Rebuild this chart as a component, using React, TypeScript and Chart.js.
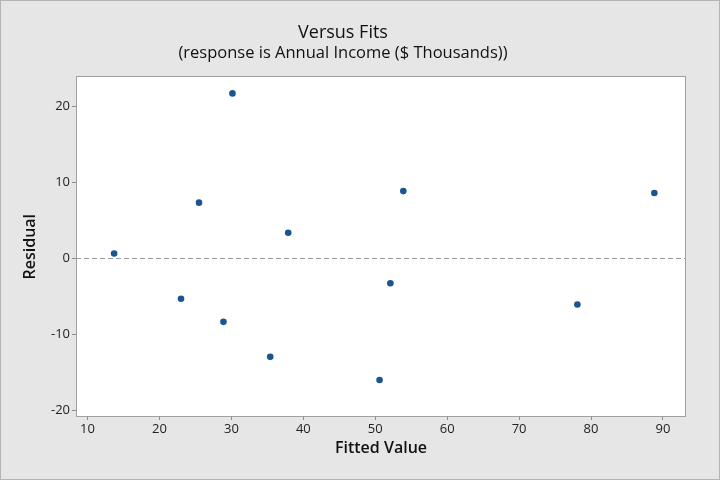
import React, { useEffect, useRef } from 'react';
import { Chart, registerables } from 'chart.js';

Chart.register(...registerables);

const fittedValues = [13.7, 23.0, 25.5, 28.9, 30.15, 35.4, 37.9, 50.6, 52.1, 53.9, 78.1, 88.8];
const residuals = [0.66, -5.32, 7.36, -8.36, 21.76, -12.97, 3.39, -16.03, -3.26, 8.88, -6.07, 8.63];
const xTicks = [10, 20, 30, 40, 50, 60, 70, 80, 90];
const yTicks = [-20, -10, 0, 10, 20];
const titleText = 'Versus Fits';
const subtitleText = '(response is Annual Income ($ Thousands))';
const xTitle = 'Fitted Value';
const yTitle = 'Residual';

const FONT = "'Open Sans', 'Noto Sans', sans-serif";

const framePlugin = {
  id: 'frame',
  beforeDraw(chart: any) {
    const { ctx, width, height, chartArea } = chart;
    ctx.save();
    ctx.fillStyle = '#e6e6e6';
    ctx.fillRect(0, 0, width, height);
    ctx.strokeStyle = '#b4b4b4';
    ctx.lineWidth = 1;
    ctx.strokeRect(0.5, 0.5, width - 1, height - 1);
    ctx.fillStyle = '#ffffff';
    ctx.fillRect(chartArea.left, chartArea.top, chartArea.right - chartArea.left, chartArea.bottom - chartArea.top);
    ctx.restore();
  },
  beforeDatasetsDraw(chart: any) {
    const { ctx, chartArea, scales } = chart;
    const y0 = Math.round(scales.y.getPixelForValue(0)) + 0.5;
    ctx.save();
    ctx.strokeStyle = '#9a9a9a';
    ctx.lineWidth = 1;
    ctx.setLineDash([5, 3]);
    ctx.beginPath();
    ctx.moveTo(chartArea.left, y0);
    ctx.lineTo(chartArea.right, y0);
    ctx.stroke();
    ctx.restore();
  },
  afterDraw(chart: any) {
    const { ctx, chartArea } = chart;
    ctx.save();
    ctx.strokeStyle = '#a0a0a0';
    ctx.lineWidth = 1;
    ctx.strokeRect(
      Math.round(chartArea.left) + 0.5,
      Math.round(chartArea.top) + 0.5,
      Math.round(chartArea.right - chartArea.left) - 1,
      Math.round(chartArea.bottom - chartArea.top) - 1
    );
    ctx.restore();
  },
};

export default function App() {
  const ref = useRef<HTMLCanvasElement | null>(null);

  useEffect(() => {
    if (!ref.current) return;
    const chart = new Chart(ref.current, {
      type: 'scatter',
      data: {
        datasets: [
          {
            data: fittedValues.map((x, i) => ({ x, y: residuals[i] })),
            backgroundColor: '#1a5590',
            borderColor: '#1a5590',
            pointRadius: 3.3,
            pointHoverRadius: 3.3,
            borderWidth: 0,
          },
        ],
      },
      options: {
        responsive: false,
        animation: false,
        devicePixelRatio: 1,
        layout: { padding: { left: 0, right: 34, top: 0, bottom: 0 } },
        plugins: {
          legend: { display: false },
          tooltip: { enabled: false },
          title: {
            display: true,
            text: titleText,
            color: '#111111',
            font: { family: FONT, size: 18, weight: '500', lineHeight: 1.2 },
            padding: { top: 22, bottom: 0 },
          },
          subtitle: {
            display: true,
            text: subtitleText,
            color: '#111111',
            font: { family: FONT, size: 16.5, weight: '500', lineHeight: 1.2 },
            padding: { top: 0, bottom: 13 },
          },
        },
        scales: {
          x: {
            type: 'linear',
            min: 8.4,
            max: 93.2,
            afterBuildTicks: (scale: any) => {
              scale.ticks = xTicks.map((v) => ({ value: v }));
            },
            afterFit: (scale: any) => {
              scale.height = 63;
            },
            grid: {
              display: true,
              drawOnChartArea: false,
              drawTicks: true,
              tickLength: 3,
              color: '#8c8c8c',
            },
            border: { display: false },
            ticks: {
              color: '#222222',
              font: { family: FONT, size: 13 },
              padding: 1,
              maxRotation: 0,
              autoSkip: false,
            },
            title: {
              display: true,
              text: xTitle,
              color: '#111111',
              font: { family: FONT, size: 16, weight: '600', lineHeight: 1.2 },
              padding: { top: 0, bottom: 22 },
            },
          },
          y: {
            type: 'linear',
            min: -20.9,
            max: 24,
            afterBuildTicks: (scale: any) => {
              scale.ticks = yTicks.map((v) => ({ value: v }));
            },
            afterFit: (scale: any) => {
              scale.width = 76;
            },
            grid: {
              display: true,
              drawOnChartArea: false,
              drawTicks: true,
              tickLength: 4,
              color: '#8c8c8c',
            },
            border: { display: false },
            ticks: {
              color: '#222222',
              font: { family: FONT, size: 13 },
              padding: 2,
              autoSkip: false,
            },
            title: {
              display: true,
              text: yTitle,
              color: '#111111',
              font: { family: FONT, size: 16, weight: '600', lineHeight: 1.2 },
              padding: { top: 21, bottom: 0 },
            },
          },
        },
      },
      plugins: [framePlugin],
    });
    return () => chart.destroy();
  }, []);

  return (
    <div style={{ position: 'fixed', left: 0, top: 0, width: 720, height: 480 }}>
      <canvas ref={ref} width={720} height={480} style={{ display: 'block' }} />
    </div>
  );
}
